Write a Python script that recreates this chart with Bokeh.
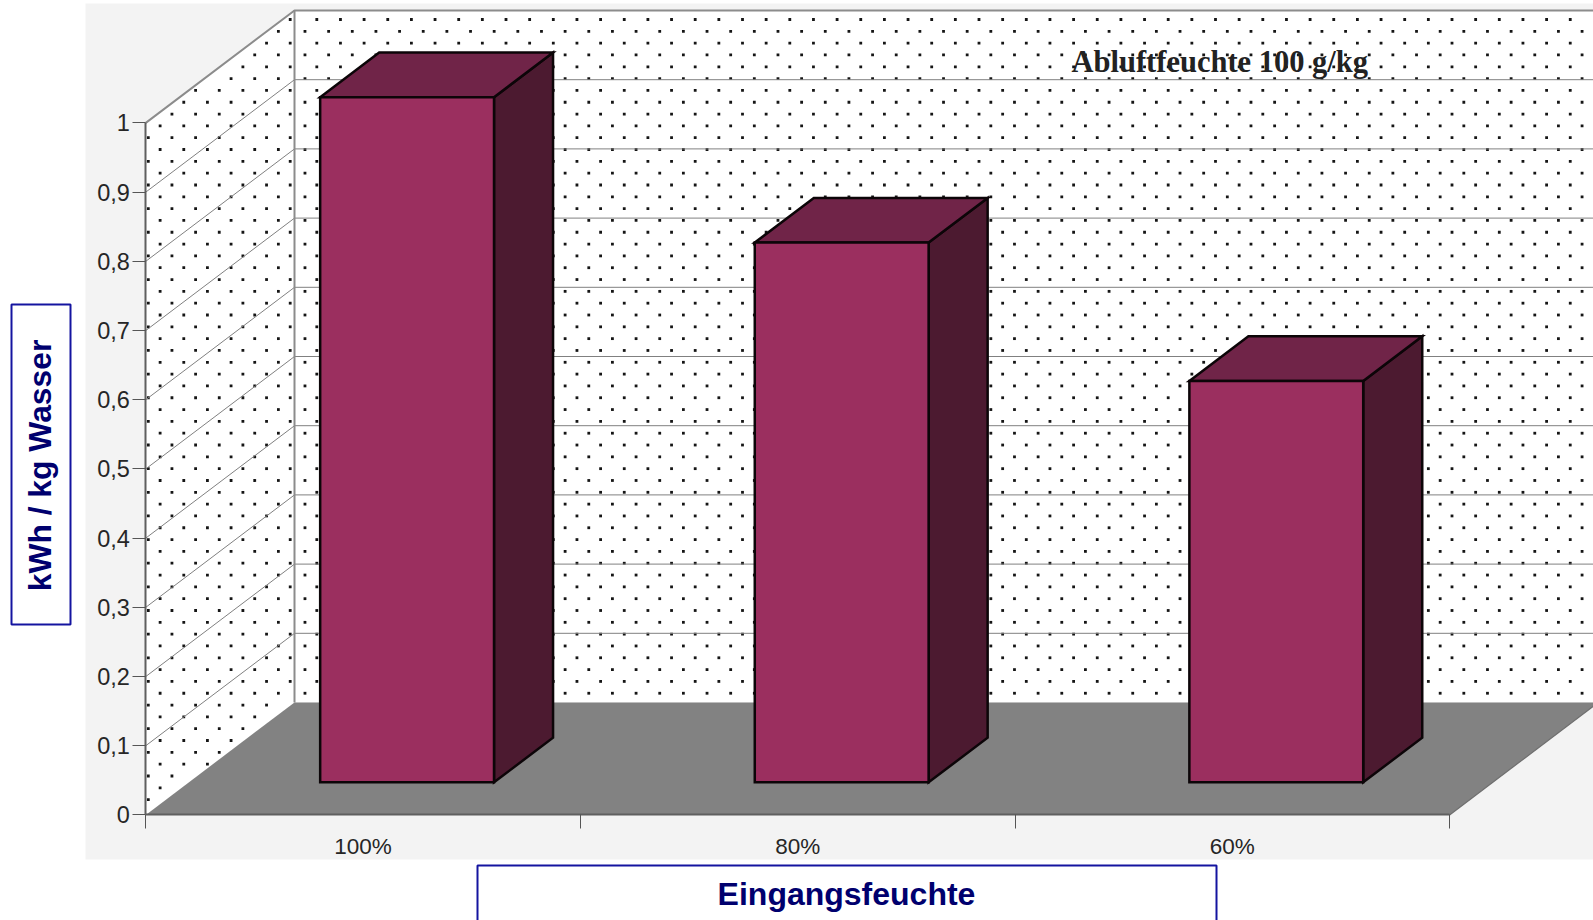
import numpy as np
from bokeh.plotting import figure
from bokeh.embed import file_html
from bokeh.resources import INLINE
from bokeh.models import BoxAnnotation, Label, FixedTicker

categories = ["100%", "80%", "60%"]
bar_values = [0.99, 0.78, 0.58]
y_ticks = [0, 0.1, 0.2, 0.3, 0.4, 0.5, 0.6, 0.7, 0.8, 0.9, 1]
y_tick_labels = ["0", "0,1", "0,2", "0,3", "0,4", "0,5", "0,6", "0,7", "0,8", "0,9", "1"]
x_title = "Eingangsfeuchte"
y_title = "kWh / kg Wasser"
note = "Abluftfeuchte 100 g/kg"

# canvas layout (pixels)
W, H = 1593, 920
L, B = 145.3, 814.4
UX, UY = 434.6, 692.0          # pixels per category, pixels per value unit
DX, DY = 148.7 / UX, 112.4 / UY  # oblique depth vector in data units


def fx(px):
    return (px - L) / UX


def fy(py):
    return (B - py) / UY


def proj(x, y, z):
    return x + z * DX, y + z * DY


p = figure(width=W, height=H, output_backend="svg", toolbar_location=None,
           x_range=(fx(0), fx(W)), y_range=(fy(H), fy(0)),
           min_border=0, background_fill_color="white", border_fill_color="white",
           outline_line_color=None)
p.grid.visible = False

GREY_BG = "#f3f3f3"
p.add_layout(BoxAnnotation(left=fx(85), right=fx(W), top=fy(3), bottom=fy(859),
                           fill_color=GREY_BG, fill_alpha=1, line_color=None, level="underlay"))

XR = 3.0
# walls
wx0, wy0 = proj(0, 0, 0)
wx1, wy1 = proj(0, 0, 1)
xe, _ = proj(XR, 0, 1)
side_x = [wx0, wx1, wx1, wx0]
side_y = [0, DY, 1 + DY, 1]
back_x = [wx1, xe, xe, wx1]
back_y = [DY, DY, 1 + DY, 1 + DY]
p.patch(side_x, side_y, fill_color="white", line_color=None)
p.patch(back_x, back_y, fill_color="white", line_color=None)

# dotted wall texture
PX, PY = 23.65, 11.82


def lattice(x0, y0):
    r = np.arange(0, 70)
    c = np.arange(-30, 70)
    cc, rr = np.meshgrid(c, r)
    return x0 + (cc - (rr % 2) * 0.5) * PX, y0 + rr * PY


bx, by = lattice(316.3, 19.0)
m = (bx > 296) & (bx < W) & (by < 702)
sx, sy = lattice(289.7, 19.0)
ux, uy = fx(sx), fy(sy)
ms = (ux >= -0.001) & (ux <= wx1 - 0.002) & (uy >= ux * DY / DX + 0.004) & (uy <= 1 + ux * DY / DX - 0.004)
p.scatter(np.r_[fx(bx[m]), ux[ms]], np.r_[fy(by[m]), uy[ms]], marker="square", size=2.8,
          fill_color="#151515", line_color=None)

# grid lines on both walls
gx, gy = [], []
for t in y_ticks[1:-1]:
    gx.append([wx0, wx1, xe])
    gy.append([t, t + DY, t + DY])
p.multi_line(gx, gy, line_color="#808080", line_width=1)
p.line([wx0, wx1, xe], [1, 1 + DY, 1 + DY], line_color="#8c8c8c", line_width=2)
p.line([wx1, wx1], [DY, 1 + DY], line_color="#8c8c8c", line_width=2)

# floor
p.patch([wx0, XR, xe, wx1], [0, 0, DY, DY], fill_color="#828282", line_color=None)
p.line([XR, xe], [0, DY], line_color="#6e6e6e", line_width=1.2)

# bars
BX0, BX1 = 0.302, 0.702
Z0, Z1 = 0.29, 0.687
FRONT, TOP, SIDE = "#9b2f5f", "#702448", "#4c1a30"
for i, v in enumerate(bar_values):
    a, b = i + BX0, i + BX1
    f = [proj(a, 0, Z0), proj(b, 0, Z0), proj(b, v, Z0), proj(a, v, Z0)]
    t = [proj(a, v, Z0), proj(b, v, Z0), proj(b, v, Z1), proj(a, v, Z1)]
    s = [proj(b, 0, Z0), proj(b, 0, Z1), proj(b, v, Z1), proj(b, v, Z0)]
    for poly, col in ((s, SIDE), (t, TOP), (f, FRONT)):
        p.patch([q[0] for q in poly], [q[1] for q in poly], fill_color=col,
                line_color="#0c0508", line_width=2.5, line_join="miter")

# axes
yax = p.yaxis[0]
yax.fixed_location = 0
yax.ticker = FixedTicker(ticks=y_ticks)
yax.major_label_overrides = dict(zip(y_ticks, y_tick_labels))
yax.bounds = (0, 1)
yax.major_tick_in = 0
yax.major_tick_out = 13
yax.minor_tick_line_color = None
yax.axis_line_color = "#5f5f5f"
yax.axis_line_width = 2
yax.major_tick_line_color = "#555555"
yax.major_tick_line_width = 1
yax.major_label_text_font = "Liberation Sans"
yax.major_label_text_font_size = "23.5px"
yax.major_label_text_color = "#262626"
yax.major_label_standoff = 3

xax = p.xaxis[0]
xax.fixed_location = 0
cat_pos = [i + 0.5 for i in range(len(categories))]
xax.ticker = FixedTicker(ticks=cat_pos, minor_ticks=list(range(len(categories) + 1)))
xax.major_label_overrides = dict(zip(cat_pos, categories))
xax.bounds = (0, XR)
xax.major_tick_line_color = None
xax.major_tick_in = 0
xax.major_tick_out = 0
xax.minor_tick_in = 0
xax.minor_tick_out = 14
xax.minor_tick_line_color = "#555555"
xax.minor_tick_line_width = 1
xax.axis_line_color = "#5f5f5f"
xax.axis_line_width = 2
xax.major_label_text_font = "Liberation Sans"
xax.major_label_text_font_size = "22.5px"
xax.major_label_text_color = "#262626"
xax.major_label_standoff = 5

# framed axis titles
NAVY = "#1414a0"
INK = "#00006e"
p.add_layout(BoxAnnotation(left=fx(477), right=fx(1216), top=fy(865), bottom=fy(930),
                           fill_color=None, fill_alpha=0, line_color=NAVY, line_alpha=1,
                           line_width=2, level="overlay"))
p.add_layout(BoxAnnotation(left=fx(11), right=fx(70), top=fy(304), bottom=fy(624),
                           fill_color=None, fill_alpha=0, line_color=NAVY, line_alpha=1,
                           line_width=2, level="overlay"))
p.add_layout(Label(x=fx(846), y=fy(893), text=x_title, text_align="center", text_baseline="middle",
                   text_font="Liberation Sans", text_font_style="bold", text_font_size="32px",
                   text_color=INK))
p.add_layout(Label(x=fx(39), y=fy(465), text=y_title, text_align="center", text_baseline="middle",
                   angle=np.pi / 2, text_font="Liberation Sans", text_font_style="bold",
                   text_font_size="31.8px", text_color=INK))
p.add_layout(Label(x=fx(1071), y=fy(61), text=note, text_align="left", text_baseline="alphabetic",
                   text_font="Liberation Serif", text_font_style="bold", text_font_size="30.5px",
                   text_color="#222222"))

open("out.html", "w").write(file_html(p, INLINE))
